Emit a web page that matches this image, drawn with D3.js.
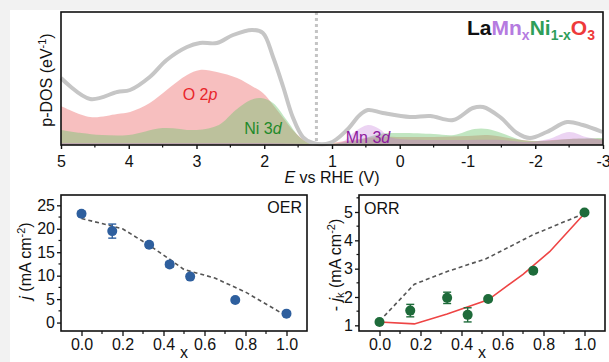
<!DOCTYPE html>
<html><head><meta charset="utf-8">
<script src="https://cdn.jsdelivr.net/npm/d3@7"></script>
<style>
html,body{margin:0;padding:0;background:#f2f2f2;}
svg{display:block;font-family:"Liberation Sans",Arial,sans-serif;}
</style></head>
<body><svg id="c" width="609" height="362"></svg>
<script>
// ---- Top panel: p-DOS vs E (V vs RHE), arbitrary units ----
const totalDOS = [[5.00,67],[4.57,46],[4.17,53],[3.98,55],[3.69,68],[3.44,85],[3.14,98],[2.95,102],[2.70,102],[2.46,110],[2.18,115],[2.02,112],[1.87,88],[1.72,58],[1.58,28],[1.43,8],[1.28,2],[1.03,2],[0.78,15],[0.59,30],[0.47,35],[0.25,32],[-0.15,28],[-0.45,29],[-0.79,25],[-1.08,37],[-1.23,38],[-1.48,28],[-1.73,12],[-1.92,7],[-2.17,13],[-2.47,23],[-2.70,20],[-2.99,13]];
const o2pDOS = [[5.00,39],[4.57,28],[4.17,31],[3.98,33],[3.69,42],[3.44,55],[3.14,70],[2.95,75],[2.70,73],[2.40,67],[2.16,58],[2.02,52],[1.87,40],[1.72,27],[1.58,15],[1.43,6],[1.28,2],[1.10,1],[0.90,3],[0.60,6],[0.30,8],[0.00,8],[-0.50,8],[-1.00,9],[-1.30,10],[-1.70,6],[-2.00,4],[-2.50,6],[-3.00,6]];
const ni3dDOS = [[5.00,15],[4.70,12],[4.40,10],[4.00,10],[3.50,17],[3.00,15],[2.67,20],[2.42,35],[2.20,45],[2.05,47],[1.87,42],[1.67,25],[1.48,8],[1.33,2],[1.10,1],[0.90,2],[0.60,5],[0.30,11],[0.00,12],[-0.50,11],[-0.80,10],[-1.10,16],[-1.30,16],[-1.50,12],[-1.80,5],[-2.10,4],[-2.50,6],[-3.00,7]];
const mn3dDOS = [[5.00,2],[4.00,2],[3.00,2],[2.00,2],[1.40,1],[1.10,0],[0.85,3],[0.65,14],[0.47,20],[0.30,16],[0.15,8],[0.00,6],[-0.50,5],[-1.00,5],[-1.50,5],[-1.90,3],[-2.20,6],[-2.50,13],[-2.75,8],[-3.00,5]];
const eF = 1.23;
const eTicks = [5,4,3,2,1,0,-1,-2,-3];
const eTickLabels = ["5","4","3","2","1","0","-1","-2","-3"];

// ---- OER panel ----
const xComp = [0, 0.15, 0.33, 0.43, 0.53, 0.75, 1.0];
const oerJ   = [23.2, 19.5, 16.6, 12.4, 9.8, 4.8, 1.9];
const oerErr = [0.5, 1.5, 0.5, 0.6, 0.5, 0.4, 0.3];
const oerFitX = [0, 0.2, 0.33, 0.43, 0.5, 0.65, 0.8, 1.0];
const oerFitY = [22.2, 20.0, 16.5, 13.5, 11.3, 9.5, 6.5, 1.4];
const oerTicks = [0,5,10,15,20,25];

// ---- ORR panel ----
const orrJ   = [1.12, 1.52, 1.97, 1.37, 1.93, 2.93, 4.98];
const orrErr = [0.05, 0.22, 0.2, 0.25, 0.05, 0.06, 0.05];
const orrDashX = [0, 0.17, 0.33, 0.52, 0.75, 1.0];
const orrDashY = [1.15, 2.45, 2.9, 3.35, 4.2, 4.95];
const orrRedX = [0, 0.17, 0.33, 0.53, 0.7, 0.83, 1.0];
const orrRedY = [1.12, 1.05, 1.4, 1.9, 2.8, 3.6, 4.95];
const orrTicks = [1,2,3,4,5];
const xTicks = [0,0.2,0.4,0.6,0.8,1.0];

const FS = 16;
const svg = d3.select("#c");
svg.append("rect").attr("x",0).attr("y",0).attr("width",609).attr("height",362).attr("fill","#f2f2f2");
svg.append("rect").attr("x",10).attr("y",10).attr("width",599).attr("height",352).attr("fill","#ffffff");

// ================= TOP =================
const xE = d3.scaleLinear().domain([5,-3]).range([61,603]);
const yD = d3.scaleLinear().domain([0,133]).range([145,12]);
const gTop = svg.append("g");
const areaGen = d3.area().x(d=>xE(d[0])).y0(yD(0)).y1(d=>yD(d[1])).curve(d3.curveCatmullRom);
gTop.append("path").datum(o2pDOS).attr("d",areaGen).attr("fill","#f08080").attr("fill-opacity",0.5);
gTop.append("path").datum(ni3dDOS).attr("d",areaGen).attr("fill","#6cc46c").attr("fill-opacity",0.42);
gTop.append("path").datum(mn3dDOS).attr("d",areaGen).attr("fill","#c070d8").attr("fill-opacity",0.3);
gTop.append("path").datum(totalDOS)
  .attr("d", d3.line().x(d=>xE(d[0])).y(d=>yD(d[1])).curve(d3.curveCatmullRom))
  .attr("fill","none").attr("stroke","#c6c6c6").attr("stroke-width",4);
gTop.append("line").attr("x1",xE(eF)).attr("x2",xE(eF)).attr("y1",yD(133)).attr("y2",yD(0))
  .attr("stroke","#c4c4c4").attr("stroke-width",3).attr("stroke-dasharray","3,3");

gTop.append("text").attr("x",200).attr("y",100).attr("text-anchor","middle").attr("font-size",FS).attr("fill","#e8262b")
  .html('O 2<tspan font-style="italic">p</tspan>');
gTop.append("text").attr("x",263).attr("y",134).attr("text-anchor","middle").attr("font-size",FS).attr("fill","#1f8a2a")
  .html('Ni 3<tspan font-style="italic">d</tspan>');
gTop.append("text").attr("x",368).attr("y",143).attr("text-anchor","middle").attr("font-size",FS).attr("fill","#8e1a9e")
  .html('Mn 3<tspan font-style="italic">d</tspan>');

const tt = gTop.append("text").attr("x",595).attr("y",35).attr("text-anchor","end").attr("font-size",21).attr("font-weight","bold");
tt.append("tspan").attr("fill","#111").text("La");
tt.append("tspan").attr("fill","#b57be0").text("Mn");
tt.append("tspan").attr("fill","#b57be0").attr("font-size",14).attr("dy",5).text("x");
tt.append("tspan").attr("fill","#2e9e5a").attr("dy",-5).text("Ni");
tt.append("tspan").attr("fill","#2e9e5a").attr("font-size",14).attr("dy",5).text("1-x");
tt.append("tspan").attr("fill","#ee3a3a").attr("dy",-5).text("O");
tt.append("tspan").attr("fill","#ee3a3a").attr("font-size",14).attr("dy",5).text("3");

gTop.append("rect").attr("x",61).attr("y",12).attr("width",542).attr("height",133).attr("fill","none").attr("stroke","#111").attr("stroke-width",1.6);
const axTop = gTop.append("g").attr("transform","translate(0,145)")
  .call(d3.axisBottom(xE).tickValues(eTicks).tickFormat((d,i)=>eTickLabels[i]).tickSize(4).tickPadding(7));
axTop.select(".domain").remove();
axTop.selectAll("text").attr("font-size",FS).attr("fill","#111").attr("font-family","Liberation Sans, Arial, sans-serif");
axTop.selectAll("line").attr("stroke","#111").attr("stroke-width",1.4);
const minorE = d3.range(4.5,-3,-1);
gTop.append("g").selectAll("line").data(minorE).join("line")
  .attr("x1",d=>xE(d)).attr("x2",d=>xE(d)).attr("y1",145).attr("y2",147.5).attr("stroke","#111").attr("stroke-width",1.2);
gTop.append("text").attr("x",332).attr("y",183).attr("text-anchor","middle").attr("font-size",FS).attr("fill","#111")
  .html('<tspan font-style="italic">E</tspan> vs RHE (V)');
gTop.append("text").attr("transform","translate(52,80) rotate(-90)").attr("text-anchor","middle").attr("font-size",FS).attr("fill","#111")
  .html('p-DOS (eV<tspan font-size="11" dy="-6">-1</tspan><tspan dy="6">)</tspan>');

// ================= BOTTOM PANELS =================
function panel(x0,x1,yDom,yTicks,yMinor){
  const x = d3.scaleLinear().domain([-0.1,1.1]).range([x0,x1]);
  const y = d3.scaleLinear().domain(yDom).range([331,195]);
  const g = svg.append("g");
  const ax = g.append("g").attr("transform","translate(0,331)")
    .call(d3.axisBottom(x).tickValues(xTicks).tickFormat(d3.format(".1f")).tickSize(5).tickPadding(3));
  const ay = g.append("g").attr("transform",`translate(${x0},0)`)
    .call(d3.axisLeft(y).tickValues(yTicks).tickFormat(d3.format("d")).tickSize(4).tickPadding(2));
  [ax,ay].forEach(a=>{a.select(".domain").remove();
    a.selectAll("text").attr("font-size",FS).attr("fill","#111").attr("font-family","Liberation Sans, Arial, sans-serif");
    a.selectAll("line").attr("stroke","#111").attr("stroke-width",1.3);});
  g.append("g").selectAll("line").data([0.1,0.3,0.5,0.7,0.9]).join("line")
    .attr("x1",d=>x(d)).attr("x2",d=>x(d)).attr("y1",331).attr("y2",334).attr("stroke","#111").attr("stroke-width",1.2);
  g.append("g").selectAll("line").data(yMinor).join("line")
    .attr("x1",x0).attr("x2",x0-2.5).attr("y1",d=>y(d)).attr("y2",d=>y(d)).attr("stroke","#111").attr("stroke-width",1.2);
  return {x,y,g};
}

// OER
const P1 = panel(61,307,[-1.8,27.2],oerTicks,[2.5,7.5,12.5,17.5,22.5]);
P1.g.append("path").datum(oerFitX.map((v,i)=>[v,oerFitY[i]]))
  .attr("d",d3.line().x(d=>P1.x(d[0])).y(d=>P1.y(d[1])))
  .attr("fill","none").attr("stroke","#555").attr("stroke-width",1.6).attr("stroke-dasharray","4,3");
const oerPts = xComp.map((v,i)=>({x:v,y:oerJ[i],e:oerErr[i]}));
P1.g.append("g").selectAll("g").data(oerPts).join("g").each(function(d){
  const s=d3.select(this), cx=P1.x(d.x);
  s.append("line").attr("x1",cx).attr("x2",cx).attr("y1",P1.y(d.y-d.e)).attr("y2",P1.y(d.y+d.e)).attr("stroke","#2e5f9e").attr("stroke-width",1.4);
  [d.y-d.e,d.y+d.e].forEach(v=>s.append("line").attr("x1",cx-4).attr("x2",cx+4).attr("y1",P1.y(v)).attr("y2",P1.y(v)).attr("stroke","#2e5f9e").attr("stroke-width",1.4));
  s.append("circle").attr("cx",cx).attr("cy",P1.y(d.y)).attr("r",5).attr("fill","#2e5f9e");
});
P1.g.append("rect").attr("x",61).attr("y",195).attr("width",246).attr("height",136).attr("fill","none").attr("stroke","#111").attr("stroke-width",1.6);
P1.g.append("text").attr("x",302).attr("y",213).attr("text-anchor","end").attr("font-size",FS).attr("fill","#111").text("OER");
P1.g.append("text").attr("x",184).attr("y",358).attr("text-anchor","middle").attr("font-size",FS).attr("fill","#111").text("x");
P1.g.append("text").attr("transform","translate(31,261) rotate(-90)").attr("text-anchor","middle").attr("font-size",FS).attr("fill","#111")
  .html('<tspan font-style="italic">j</tspan> (mA cm<tspan font-size="11" dy="-6">-2</tspan><tspan dy="6">)</tspan>');

// ORR
const P2 = panel(359,605,[0.8,5.6],orrTicks,[1.5,2.5,3.5,4.5,5.5]);
P2.g.append("path").datum(orrDashX.map((v,i)=>[v,orrDashY[i]]))
  .attr("d",d3.line().x(d=>P2.x(d[0])).y(d=>P2.y(d[1])))
  .attr("fill","none").attr("stroke","#555").attr("stroke-width",1.6).attr("stroke-dasharray","4,3");
P2.g.append("path").datum(orrRedX.map((v,i)=>[v,orrRedY[i]]))
  .attr("d",d3.line().x(d=>P2.x(d[0])).y(d=>P2.y(d[1])))
  .attr("fill","none").attr("stroke","#ee4444").attr("stroke-width",1.6);
const orrPts = xComp.map((v,i)=>({x:v,y:orrJ[i],e:orrErr[i]}));
P2.g.append("g").selectAll("g").data(orrPts).join("g").each(function(d){
  const s=d3.select(this), cx=P2.x(d.x);
  s.append("line").attr("x1",cx).attr("x2",cx).attr("y1",P2.y(d.y-d.e)).attr("y2",P2.y(d.y+d.e)).attr("stroke","#1e6b3a").attr("stroke-width",1.4);
  [d.y-d.e,d.y+d.e].forEach(v=>s.append("line").attr("x1",cx-4).attr("x2",cx+4).attr("y1",P2.y(v)).attr("y2",P2.y(v)).attr("stroke","#1e6b3a").attr("stroke-width",1.4));
  s.append("circle").attr("cx",cx).attr("cy",P2.y(d.y)).attr("r",5).attr("fill","#1e6b3a");
});
P2.g.append("rect").attr("x",359).attr("y",195).attr("width",246).attr("height",136).attr("fill","none").attr("stroke","#111").attr("stroke-width",1.6);
P2.g.append("text").attr("x",364).attr("y",214).attr("text-anchor","start").attr("font-size",FS).attr("fill","#111").text("ORR");
P2.g.append("text").attr("x",482).attr("y",358).attr("text-anchor","middle").attr("font-size",FS).attr("fill","#111").text("x");
P2.g.append("text").attr("transform","translate(341,265) rotate(-90)").attr("text-anchor","middle").attr("font-size",FS).attr("fill","#111")
  .html('- <tspan font-style="italic">j</tspan><tspan font-size="11" dy="3">k</tspan><tspan dy="-3"> (mA cm</tspan><tspan font-size="11" dy="-6">-2</tspan><tspan dy="6">)</tspan>');
</script></body></html>
